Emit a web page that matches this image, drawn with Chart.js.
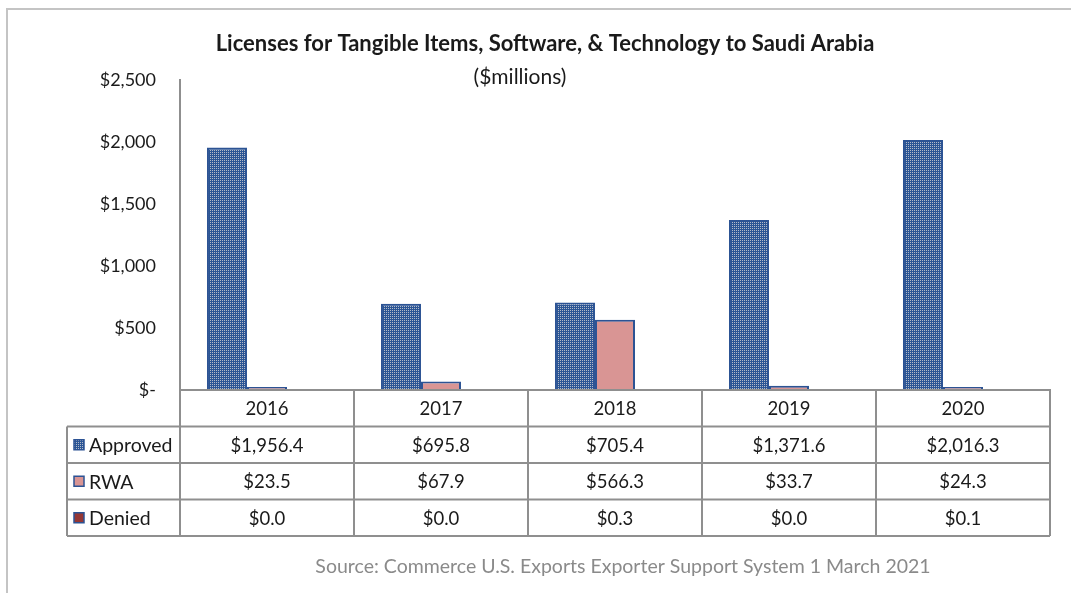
<!DOCTYPE html>
<html>
<head>
<meta charset="utf-8">
<script src="https://cdn.jsdelivr.net/npm/chart.js@4.4.1/dist/chart.umd.min.js"></script>
<style>
  html, body { margin: 0; padding: 0; background: #fff; }
  #frame { position: absolute; left: 6px; top: 8px; width: 1080px; height: 600px; border-left: 2px solid #c4c4c4; border-top: 2px solid #c4c4c4; }
  canvas { position: absolute; left: 0; top: 0; }
</style>
</head>
<body>
<div id="frame"></div>
<canvas id="licenseChart" width="1071" height="593"></canvas>
<script>
// data, $ millions
const years = ['2016', '2017', '2018', '2019', '2020'];
const approved = [1956.4, 695.8, 705.4, 1371.6, 2016.3];
const rwa = [23.5, 67.9, 566.3, 33.7, 24.3];
const denied = [0.0, 0.0, 0.3, 0.0, 0.1];
const yTicks = [0, 500, 1000, 1500, 2000, 2500];

const FONT = 'Lato, "Open Sans", sans-serif';
const BLUE = '#2b5595';
const EDGE = '#2c5394';
const GRID = '#8f8f8f';

// small lattice pattern for the Approved bars
function makePattern() {
  const c = document.createElement('canvas');
  c.width = 8; c.height = 8;
  const g = c.getContext('2d');
  g.fillStyle = BLUE;
  g.fillRect(0, 0, 8, 8);
  g.fillStyle = '#b3bac8';
  for (let i = 0; i < 8; i += 2) {
    g.fillRect(i, 0, 1, 1); g.fillRect(i, 4, 1, 1);
    g.fillRect(0, i, 1, 1); g.fillRect(4, i, 1, 1);
  }
  [[2,2],[6,6],[2,6],[6,2]].forEach(d => g.fillRect(d[0], d[1], 1, 1));
  return document.getElementById('licenseChart').getContext('2d').createPattern(c, 'repeat');
}
const approvedFill = makePattern();

const fmt = v => '$' + v.toLocaleString('en-US', { minimumFractionDigits: 1, maximumFractionDigits: 1 });

// title, subtitle, data table and source note
const tablePlugin = {
  id: 'dataTable',
  afterDraw(chart) {
    const ctx = chart.ctx;
    const x = chart.scales.x;
    const area = chart.chartArea;
    const rowH = 36.5;
    const top = area.bottom;
    const leftCol = 67;
    const rows = [
      { name: 'Approved', vals: approved, fill: approvedFill },
      { name: 'RWA', vals: rwa, fill: '#d99594' },
      { name: 'Denied', vals: denied, fill: '#953735' }
    ];
    const edges = [];
    for (let i = 0; i <= years.length; i++) {
      edges.push(i === 0 ? area.left : (i === years.length ? area.right : (x.getPixelForValue(i - 1) + x.getPixelForValue(i)) / 2));
    }
    ctx.save();
    ctx.strokeStyle = GRID;
    ctx.lineWidth = 2;
    ctx.beginPath();
    // header row (years)
    ctx.moveTo(area.left, top); ctx.lineTo(area.right, top);
    for (let r = 1; r <= rows.length + 1; r++) {
      ctx.moveTo(leftCol, top + rowH * r); ctx.lineTo(area.right, top + rowH * r);
    }
    edges.forEach(e => { ctx.moveTo(e, top); ctx.lineTo(e, top + rowH * (rows.length + 1)); });
    ctx.moveTo(leftCol, top + rowH); ctx.lineTo(leftCol, top + rowH * (rows.length + 1));
    ctx.stroke();

    ctx.fillStyle = '#1a1a1a';
    ctx.font = '18.5px ' + FONT;
    ctx.textAlign = 'center';
    ctx.textBaseline = 'middle';
    years.forEach((y, i) => ctx.fillText(y, x.getPixelForValue(i), top + rowH / 2 + 1));
    rows.forEach((row, r) => {
      const cy = top + rowH * (r + 1.5) + 1;
      row.vals.forEach((v, i) => ctx.fillText(fmt(v), x.getPixelForValue(i), cy));
      ctx.fillStyle = row.fill;
      ctx.fillRect(74, cy - 6, 10, 10);
      ctx.strokeStyle = EDGE;
      ctx.lineWidth = 1.5;
      ctx.strokeRect(74, cy - 6, 10, 10);
      ctx.fillStyle = '#1a1a1a';
      ctx.textAlign = 'left';
      ctx.font = '19.5px ' + FONT;
      ctx.fillText(row.name, 89, cy);
      ctx.font = '18.5px ' + FONT;
      ctx.textAlign = 'center';
    });

    ctx.font = 'bold 22px ' + FONT;
    ctx.fillText('Licenses for Tangible Items, Software, & Technology to Saudi Arabia', 545, 44);
    ctx.font = '21px ' + FONT;
    ctx.fillText('($millions)', 520, 77);
    ctx.fillStyle = '#8a8a8a';
    ctx.font = '19.5px ' + FONT;
    ctx.fillText('Source: Commerce U.S. Exports Exporter Support System 1 March 2021', 623, 567);
    ctx.restore();
  }
};

const barStyle = { borderColor: EDGE, borderWidth: 2, barPercentage: 1, categoryPercentage: 0.69 };

new Chart(document.getElementById('licenseChart'), {
  type: 'bar',
  data: {
    labels: years,
    datasets: [
      { label: 'Approved', data: approved, backgroundColor: approvedFill, ...barStyle },
      { label: 'RWA', data: rwa, backgroundColor: '#d99594', ...barStyle },
      { label: 'Denied', data: denied, backgroundColor: '#953735', ...barStyle }
    ]
  },
  options: {
    responsive: false,
    animation: false,
    layout: { padding: { top: 80, right: 21, left: 0, bottom: 0 } },
    plugins: { legend: { display: false }, tooltip: { enabled: false } },
    scales: {
      x: {
        ticks: { display: false },
        grid: { display: false, drawTicks: false },
        border: { display: true, color: GRID, width: 2 },
        afterFit: s => { s.height = 203; }
      },
      y: {
        min: 0, max: 2500,
        afterBuildTicks: s => { s.ticks = yTicks.map(v => ({ value: v })); },
        ticks: {
          padding: 24,
          color: '#1a1a1a',
          font: { family: FONT, size: 18 },
          callback: v => v === 0 ? '$-' : '$' + v.toLocaleString('en-US')
        },
        grid: { display: false, drawTicks: false },
        border: { display: true, color: GRID, width: 2 },
        afterFit: s => { s.width = 180; }
      }
    }
  },
  plugins: [tablePlugin]
});
</script>
</body>
</html>
